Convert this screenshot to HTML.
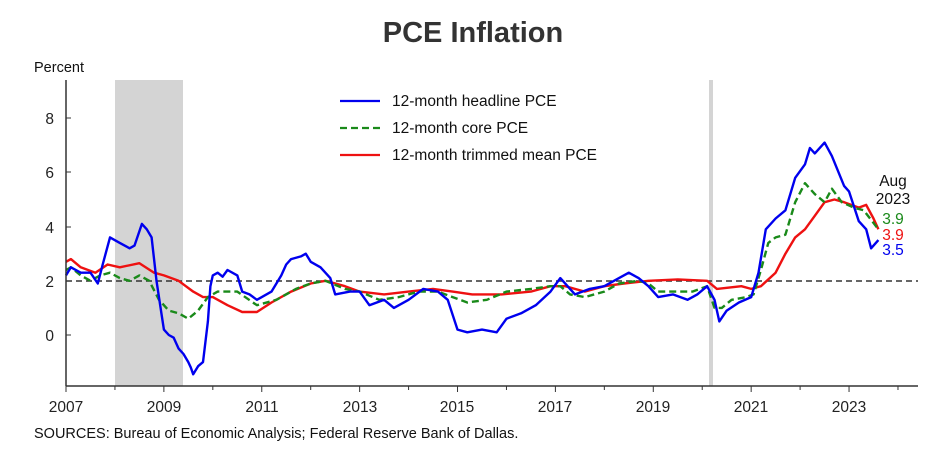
<!DOCTYPE html>
<html><head><meta charset="utf-8"><style>
body{margin:0;background:#fff;}
svg{display:block;font-family:"Liberation Sans",Arial,sans-serif;}
</style></head><body>
<svg id="s" width="936" height="450" viewBox="0 0 936 450">
<text x="473" y="42" text-anchor="middle" font-size="29" font-weight="bold" fill="#333">PCE Inflation</text>
<text x="34" y="72" font-size="14.5" fill="#111">Percent</text>
<rect x="115" y="80" width="68" height="306" fill="#d4d4d4"/>
<rect x="709" y="80" width="4" height="306" fill="#d4d4d4"/>
<line x1="66" y1="281" x2="918" y2="281" stroke="#333" stroke-width="1.5" stroke-dasharray="6,4"/>
<g id="ser"></g>
<line x1="66" y1="80" x2="66" y2="386" stroke="#333" stroke-width="1.5"/>
<line x1="66" y1="386" x2="918" y2="386" stroke="#333" stroke-width="1.5"/>
<g font-size="15.5" fill="#222" text-anchor="end">
<text x="54" y="124">8</text><text x="54" y="178">6</text><text x="54" y="233">4</text><text x="54" y="287">2</text><text x="54" y="341">0</text>
</g>
<g stroke="#333" stroke-width="1">
<line x1="66" y1="118" x2="71" y2="118"/><line x1="66" y1="172" x2="71" y2="172"/><line x1="66" y1="227" x2="71" y2="227"/><line x1="66" y1="281" x2="71" y2="281"/><line x1="66" y1="335" x2="71" y2="335"/>
</g>
<g id="xt"></g>
<g font-size="15.5" fill="#222" text-anchor="middle">
<text x="66" y="412">2007</text><text x="164" y="412">2009</text><text x="262" y="412">2011</text><text x="360" y="412">2013</text><text x="457" y="412">2015</text><text x="555" y="412">2017</text><text x="653" y="412">2019</text><text x="751" y="412">2021</text><text x="849" y="412">2023</text>
</g>
<text x="34" y="438" font-size="14.5" fill="#111">SOURCES: Bureau of Economic Analysis; Federal Reserve Bank of Dallas.</text>
<line x1="340" y1="101" x2="380" y2="101" stroke="#0000ee" stroke-width="2.2"/>
<line x1="340" y1="128" x2="380" y2="128" stroke="#1a8a1a" stroke-width="2.2" stroke-dasharray="7,4"/>
<line x1="340" y1="155" x2="380" y2="155" stroke="#ee1111" stroke-width="2.2"/>
<g font-size="15.5" fill="#111">
<text x="392" y="106">12-month headline PCE</text>
<text x="392" y="133">12-month core PCE</text>
<text x="392" y="160">12-month trimmed mean PCE</text>
</g>
<g font-size="15.5" text-anchor="middle">
<text x="893" y="186" fill="#111">Aug</text>
<text x="893" y="204" fill="#111">2023</text>
<text x="893" y="224" fill="#1a8a1a">3.9</text>
<text x="893" y="240" fill="#ee1111">3.9</text>
<text x="893" y="255" fill="#0000ee">3.5</text>
</g>
</svg>
<script>
function X(t){return 66+(t-2007)*48.94;}
function Y(v){return 335-27.1*v;}
function pts(a){var s=[];for(var i=0;i<a.length;i+=2)s.push(X(a[i]).toFixed(1)+","+Y(a[i+1]).toFixed(1));return s.join(" ");}
var H=[2007.0,2.2,2007.1,2.5,2007.3,2.3,2007.5,2.3,2007.65,1.9,2007.75,2.6,2007.9,3.6,2008.1,3.4,2008.3,3.2,2008.4,3.3,2008.55,4.1,2008.65,3.9,2008.75,3.6,2008.85,2.0,2008.95,0.8,2009.0,0.2,2009.1,0.0,2009.2,-0.1,2009.3,-0.5,2009.4,-0.7,2009.5,-1.0,2009.55,-1.2,2009.6,-1.45,2009.7,-1.15,2009.8,-1.0,2009.9,0.5,2009.95,1.8,2010.0,2.2,2010.1,2.3,2010.2,2.15,2010.3,2.4,2010.5,2.2,2010.6,1.6,2010.75,1.5,2010.9,1.3,2011.0,1.4,2011.2,1.6,2011.4,2.2,2011.5,2.6,2011.6,2.8,2011.8,2.9,2011.9,3.0,2012.0,2.7,2012.2,2.5,2012.4,2.1,2012.5,1.5,2012.8,1.6,2013.0,1.6,2013.2,1.1,2013.5,1.3,2013.7,1.0,2014.0,1.3,2014.3,1.7,2014.6,1.6,2014.8,1.3,2015.0,0.2,2015.2,0.1,2015.5,0.2,2015.8,0.1,2016.0,0.6,2016.3,0.8,2016.6,1.1,2016.9,1.6,2017.1,2.1,2017.4,1.5,2017.7,1.7,2018.0,1.8,2018.3,2.1,2018.5,2.3,2018.7,2.1,2018.9,1.8,2019.1,1.4,2019.4,1.5,2019.7,1.3,2019.9,1.5,2020.1,1.8,2020.25,1.3,2020.35,0.5,2020.5,0.9,2020.75,1.2,2021.0,1.4,2021.15,2.3,2021.3,3.9,2021.5,4.3,2021.7,4.6,2021.9,5.8,2022.1,6.3,2022.2,6.9,2022.3,6.7,2022.5,7.1,2022.65,6.6,2022.9,5.5,2023.0,5.3,2023.2,4.2,2023.35,3.9,2023.45,3.2,2023.6,3.5];
var C=[2007.0,2.4,2007.1,2.5,2007.3,2.2,2007.5,2.0,2007.7,2.2,2007.9,2.3,2008.1,2.1,2008.3,2.0,2008.5,2.2,2008.7,2.0,2008.9,1.3,2009.1,0.9,2009.3,0.8,2009.5,0.6,2009.7,0.9,2009.9,1.4,2010.1,1.6,2010.5,1.6,2010.9,1.1,2011.3,1.3,2011.7,1.7,2012.0,1.9,2012.3,2.0,2012.7,1.7,2013.0,1.6,2013.4,1.3,2013.8,1.4,2014.2,1.6,2014.6,1.6,2014.9,1.4,2015.2,1.2,2015.6,1.3,2016.0,1.6,2016.5,1.7,2016.9,1.8,2017.1,1.8,2017.3,1.5,2017.6,1.4,2018.0,1.6,2018.3,1.9,2018.7,2.0,2018.9,1.9,2019.1,1.6,2019.5,1.6,2019.8,1.6,2020.1,1.8,2020.25,1.0,2020.4,1.0,2020.6,1.3,2020.9,1.4,2021.05,1.5,2021.2,2.4,2021.35,3.4,2021.5,3.6,2021.7,3.7,2021.9,4.9,2022.1,5.6,2022.3,5.2,2022.5,4.9,2022.65,5.4,2022.85,4.9,2023.1,4.7,2023.3,4.6,2023.6,3.9];
var T=[2007.0,2.7,2007.1,2.8,2007.3,2.5,2007.6,2.3,2007.85,2.6,2008.1,2.5,2008.5,2.65,2008.8,2.3,2009.0,2.2,2009.3,2.0,2009.6,1.6,2009.8,1.4,2010.0,1.4,2010.3,1.1,2010.6,0.85,2010.9,0.85,2011.2,1.2,2011.6,1.6,2012.0,1.9,2012.3,2.0,2012.7,1.8,2013.0,1.6,2013.5,1.5,2014.0,1.6,2014.5,1.7,2014.9,1.6,2015.3,1.5,2015.9,1.5,2016.5,1.6,2016.9,1.8,2017.2,1.8,2017.6,1.6,2018.0,1.8,2018.4,1.9,2018.9,2.0,2019.5,2.05,2020.1,2.0,2020.3,1.7,2020.8,1.8,2021.0,1.7,2021.2,1.8,2021.5,2.3,2021.7,3.0,2021.9,3.6,2022.1,3.9,2022.3,4.4,2022.5,4.9,2022.7,5.0,2022.9,4.9,2023.2,4.7,2023.35,4.8,2023.5,4.3,2023.6,3.9];
var g=document.getElementById("ser");
g.innerHTML='<polyline fill="none" stroke="#ee1111" stroke-width="2.4" stroke-linejoin="round" points="'+pts(T)+'"/>'+
'<polyline fill="none" stroke="#1a8a1a" stroke-width="2.4" stroke-dasharray="7,4" stroke-linejoin="round" points="'+pts(C)+'"/>'+
'<polyline fill="none" stroke="#0000ee" stroke-width="2.4" stroke-linejoin="round" points="'+pts(H)+'"/>';
var xt="";for(var y=2007;y<=2024;y++){var x=X(y);xt+='<line x1="'+x+'" y1="386" x2="'+x+'" y2="'+(y%2?392:390)+'" stroke="#333"/>';}
document.getElementById("xt").innerHTML=xt;
</script>
</body></html>
